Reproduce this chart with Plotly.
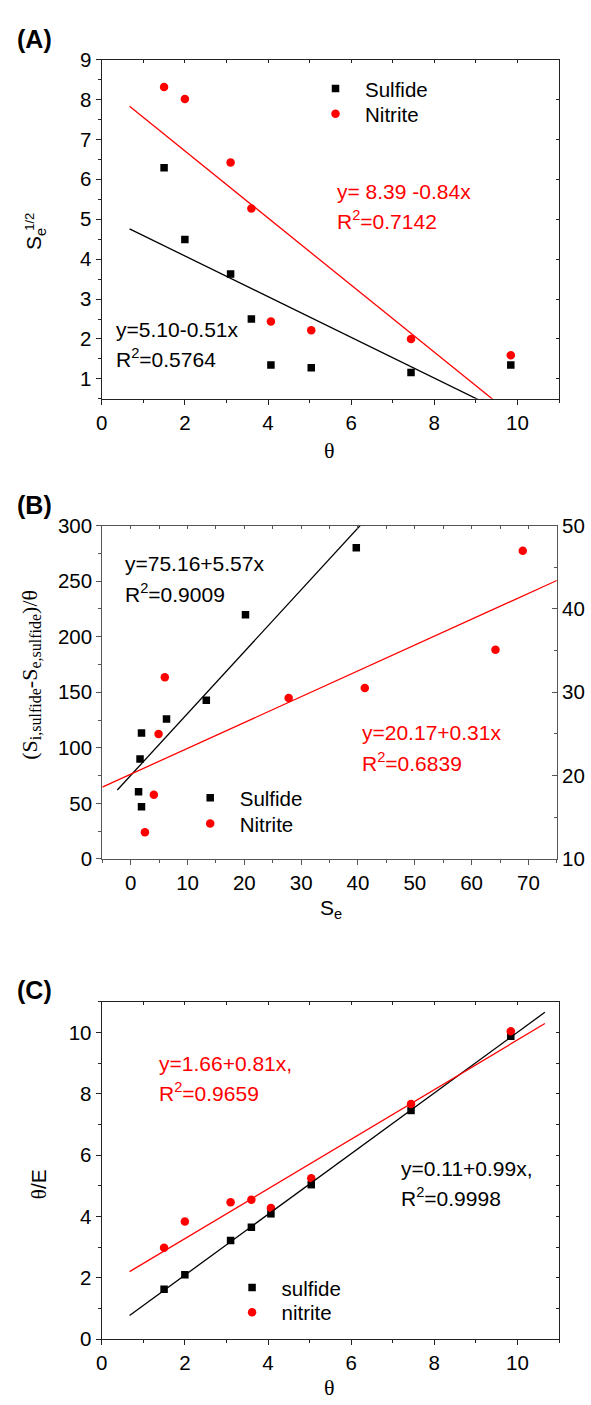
import numpy as np
import plotly.graph_objects as go

# ---------------- data ----------------
theta = [1.5, 2.0, 3.1, 3.6, 4.07, 5.04, 7.44, 9.84]

# Panel A : Se^1/2 vs theta
a_sulfide = [6.29, 4.49, 3.63, 2.50, 1.35, 1.28, 1.16, 1.35]
a_nitrite = [8.31, 8.01, 6.42, 5.27, 2.44, 2.22, 2.00, 1.59]
a_fit_sulfide = [5.10, -0.51]   # intercept, slope
a_fit_nitrite = [8.39, -0.84]
a_fit_x = [0.67, 9.6]

# Panel B : (Si - Se)/theta vs Se
b_sulfide_x = [39.7, 20.2, 13.3, 6.3, 1.9, 1.64, 1.38, 1.9]
b_sulfide_y = [280.0, 219.8, 142.8, 126.0, 113.3, 90.0, 60.5, 46.9]
b_nitrite_x = [69.0, 64.2, 41.2, 27.8, 6.0, 4.9, 4.07, 2.5]
b_nitrite_y = [47.0, 35.1, 30.5, 29.3, 31.8, 25.0, 17.7, 13.2]
b_fit_sulfide = [75.16, 5.57]
b_fit_sulfide_x = [-2.36, 41.0]
b_fit_nitrite = [20.17, 0.31]
b_fit_nitrite_x = [-5.0, 75.0]

# Panel C : theta/E vs theta
c_sulfide = [1.63, 2.10, 3.22, 3.65, 4.09, 5.04, 7.46, 9.88]
c_nitrite = [2.98, 3.84, 4.47, 4.55, 4.28, 5.25, 7.67, 10.04]
c_fit_sulfide = [0.11, 0.99]
c_fit_nitrite = [1.66, 0.81]
c_fit_x = [0.67, 10.66]

# ---------------- helpers ----------------
W, H = 591, 1405
SANS = "Liberation Sans, Arial, sans-serif"
SERIF = "Liberation Serif, Times New Roman, serif"
RED = "#ff0000"
BLACK = "#000000"


def fx(p):
    return p / W


def fy(p):
    return 1 - p / H


def fit(coef, xs):
    xs = np.array(xs, dtype=float)
    return xs, coef[0] + coef[1] * xs


fig = go.Figure()

sq = dict(symbol="square", size=7.5, color=BLACK)
ci = dict(symbol="circle", size=8.5, color=RED)

# Panel A
fig.add_trace(go.Scatter(x=theta, y=a_sulfide, mode="markers", marker=sq, name="Sulfide",
                         xaxis="x", yaxis="y", legend="legend"))
fig.add_trace(go.Scatter(x=theta, y=a_nitrite, mode="markers", marker=ci, name="Nitrite",
                         xaxis="x", yaxis="y", legend="legend2"))
for coef, col in [(a_fit_sulfide, BLACK), (a_fit_nitrite, RED)]:
    xs, ys = fit(coef, a_fit_x)
    fig.add_trace(go.Scatter(x=xs, y=ys, mode="lines", line=dict(color=col, width=1.3),
                             showlegend=False, xaxis="x", yaxis="y"))

# Panel B
fig.add_trace(go.Scatter(x=b_sulfide_x, y=b_sulfide_y, mode="markers", marker=sq, name="Sulfide",
                         xaxis="x2", yaxis="y2", legend="legend3"))
fig.add_trace(go.Scatter(x=b_nitrite_x, y=b_nitrite_y, mode="markers", marker=ci, name="Nitrite",
                         xaxis="x2", yaxis="y3", legend="legend4"))
xs, ys = fit(b_fit_sulfide, b_fit_sulfide_x)
fig.add_trace(go.Scatter(x=xs, y=ys, mode="lines", line=dict(color=BLACK, width=1.3),
                         showlegend=False, xaxis="x2", yaxis="y2"))
xs, ys = fit(b_fit_nitrite, b_fit_nitrite_x)
fig.add_trace(go.Scatter(x=xs, y=ys, mode="lines", line=dict(color=RED, width=1.3),
                         showlegend=False, xaxis="x2", yaxis="y3"))

# Panel C
fig.add_trace(go.Scatter(x=theta, y=c_sulfide, mode="markers", marker=sq, name="sulfide",
                         xaxis="x3", yaxis="y4", legend="legend5"))
fig.add_trace(go.Scatter(x=theta, y=c_nitrite, mode="markers", marker=ci, name="nitrite",
                         xaxis="x3", yaxis="y4", legend="legend6"))
for coef, col in [(c_fit_sulfide, BLACK), (c_fit_nitrite, RED)]:
    xs, ys = fit(coef, c_fit_x)
    fig.add_trace(go.Scatter(x=xs, y=ys, mode="lines", line=dict(color=col, width=1.3),
                             showlegend=False, xaxis="x3", yaxis="y4"))

# empty traces so mirror axes are drawn
for xa, ya in [("x4", "y"), ("x", "y5"), ("x5", "y2"), ("x6", "y4"), ("x3", "y6")]:
    fig.add_trace(go.Scatter(x=[], y=[], showlegend=False, xaxis=xa, yaxis=ya, hoverinfo="skip"))

tickfont = dict(family=SANS, size=20.5, color=BLACK)


def main_axis(dom, rng, dtick, minor_dtick, anchor, axcol, tick0=None, side=None):
    d = dict(domain=dom, range=rng, dtick=dtick, showgrid=False, zeroline=False,
             showline=True, linecolor=axcol, linewidth=1.2, ticks="outside", ticklen=5,
             tickwidth=1.2, tickcolor=axcol, tickfont=tickfont, anchor=anchor,
             minor=dict(dtick=minor_dtick, ticks="outside", ticklen=3, tickwidth=1.1,
                        tickcolor=axcol, showgrid=False))
    if tick0 is not None:
        d["tick0"] = tick0
        d["minor"]["tick0"] = tick0
    if side:
        d["side"] = side
    return d


def mirror_axis(rng, dtick, overlay, anchor, side, axcol, tick0=None):
    d = dict(range=rng, dtick=dtick, overlaying=overlay, anchor=anchor, side=side,
             showgrid=False, zeroline=False, showline=True, linecolor=axcol, linewidth=1.2,
             ticks="inside", ticklen=3, tickwidth=1.1, tickcolor=axcol, showticklabels=False)
    if tick0 is not None:
        d["tick0"] = tick0
    return d


AX_A = "#222222"
AX_B = "#555555"

domA_x = [fx(96.7), fx(558.7)]
domA_y = [fy(393.3), fy(48.3)]
domB_x = [fx(97.3), fx(556.5)]
domB_y = [fy(861.0), fy(522.2)]
domC_x = [fx(96.7), fx(558.7)]
domC_y = [fy(1349.3), fy(1006.4)]

layout = dict(
    width=W, height=H, margin=dict(l=0, r=0, t=0, b=0),
    paper_bgcolor="white", plot_bgcolor="white", showlegend=True,
    xaxis=main_axis(domA_x, [0, 11], 2, 1, "y", AX_A, tick0=0),
    yaxis=main_axis(domA_y, [0.5, 9], 1, 0.5, "x", AX_A, tick0=1),
    xaxis2=main_axis(domB_x, [-5, 75], 10, 5, "y2", AX_B, tick0=0),
    yaxis2=main_axis(domB_y, [0, 300], 50, 25, "x2", AX_B, tick0=0),
    xaxis3=main_axis(domC_x, [0, 11], 2, 1, "y4", AX_A, tick0=0),
    yaxis4=main_axis(domC_y, [0, 11], 2, 1, "x3", AX_A, tick0=0),
    xaxis4=mirror_axis([0, 11], 1, "x", "y", "top", AX_A, tick0=0),
    yaxis5=mirror_axis([0.5, 9], 1, "y", "x", "right", AX_A, tick0=1),
    xaxis5=mirror_axis([-5, 75], 5, "x2", "y2", "top", AX_B, tick0=0),
    xaxis6=mirror_axis([0, 11], 1, "x3", "y4", "top", AX_A, tick0=0),
    yaxis6=mirror_axis([0, 11], 1, "y4", "x3", "right", AX_A, tick0=0),
)
# right axis of panel B with labels
y3 = main_axis(domB_y, [10, 50], 10, 5, "x2", AX_B, tick0=10, side="right")
y3.update(overlaying="y2", ticks="inside", ticklen=5)
y3["minor"]["ticks"] = "inside"
layout["yaxis3"] = y3

# one legend per entry: (legend id, symbol centre x px, centre y px)
legfont = dict(family=SANS, size=20.5, color=BLACK)
leg_pos = [("legend", 333.6, 78.0), ("legend2", 333.6, 103.5),
           ("legend3", 207.0, 799.0), ("legend4", 207.0, 825.3),
           ("legend5", 249.3, 1297.0), ("legend6", 249.3, 1322.0)]
for name, x0, yc in leg_pos:
    layout[name] = dict(x=fx(x0 - 30.5), y=fy(yc), xanchor="left", yanchor="middle",
                        bgcolor="rgba(0,0,0,0)", borderwidth=0, font=legfont, itemwidth=49)

fig.update_layout(**layout)

ann = []


def text(x, y, s, color=BLACK, xref="x", yref="y", size=21, family=SANS, **kw):
    d = dict(x=x, y=y, xref=xref, yref=yref, text=s, showarrow=False, xanchor="left",
             yanchor="middle", font=dict(family=family, size=size, color=color))
    d.update(kw)
    ann.append(d)


# fit equations
text(5.61, 5.69, "y= 8.39 -0.84x", RED)
text(5.61, 4.97, "R<sup>2</sup>=0.7142", RED)
text(0.29, 2.23, "y=5.10-0.51x")
text(0.29, 1.52, "R<sup>2</sup>=0.5764")

text(-1.38, 265.5, "y=75.16+5.57x", xref="x2", yref="y2")
text(-1.38, 239.0, "R<sup>2</sup>=0.9009", xref="x2", yref="y2")
text(40.4, 113.6, "y=20.17+0.31x", RED, xref="x2", yref="y2")
text(40.4, 87.6, "R<sup>2</sup>=0.6839", RED, xref="x2", yref="y2")

text(1.33, 9.0, "y=1.66+0.81x,", RED, xref="x3", yref="y4")
text(1.33, 8.07, "R<sup>2</sup>=0.9659", RED, xref="x3", yref="y4")
text(7.14, 5.56, "y=0.11+0.99x,", xref="x3", yref="y4")
text(7.14, 4.63, "R<sup>2</sup>=0.9998", xref="x3", yref="y4")

# panel labels
for lab, yy in [("(A)", 27), ("(B)", 501), ("(C)", 994)]:
    text(fx(29), fy(yy), "<b>%s</b>" % lab, xref="paper", yref="paper", size=25, xanchor="center")

# axis titles
text(fx(327), fy(446), "θ", xref="paper", yref="paper", size=22, family=SERIF, xanchor="center")
text(fx(30), fy(231), "S<sub>e</sub>", xref="paper", yref="paper", size=21,
     xanchor="center", textangle=-90)
text(fx(23.5), fy(213), "1/2", xref="paper", yref="paper", size=13,
     xanchor="center", textangle=-90)
text(fx(328), fy(912), "S<sub>e</sub>", xref="paper", yref="paper", size=21, xanchor="center")
sub = "<span style='font-size:16px'>%s</span>"
text(fx(25), fy(674),
     "(S<sub>" + sub % "i,sulfide" + "</sub>-S<sub>" + sub % "e,sulfide" + "</sub>)/θ",
     xref="paper", yref="paper", size=22, family=SERIF, xanchor="center", textangle=-90)
text(fx(327), fy(1398), "θ", xref="paper", yref="paper", size=22, family=SERIF, xanchor="center")
text(fx(34), fy(1192), "<span style='font-family:Liberation Serif'>θ</span>/E", xref="paper",
     yref="paper", size=21, xanchor="center", textangle=-90)

fig.update_layout(annotations=ann)
fig.write_html("out.html")
